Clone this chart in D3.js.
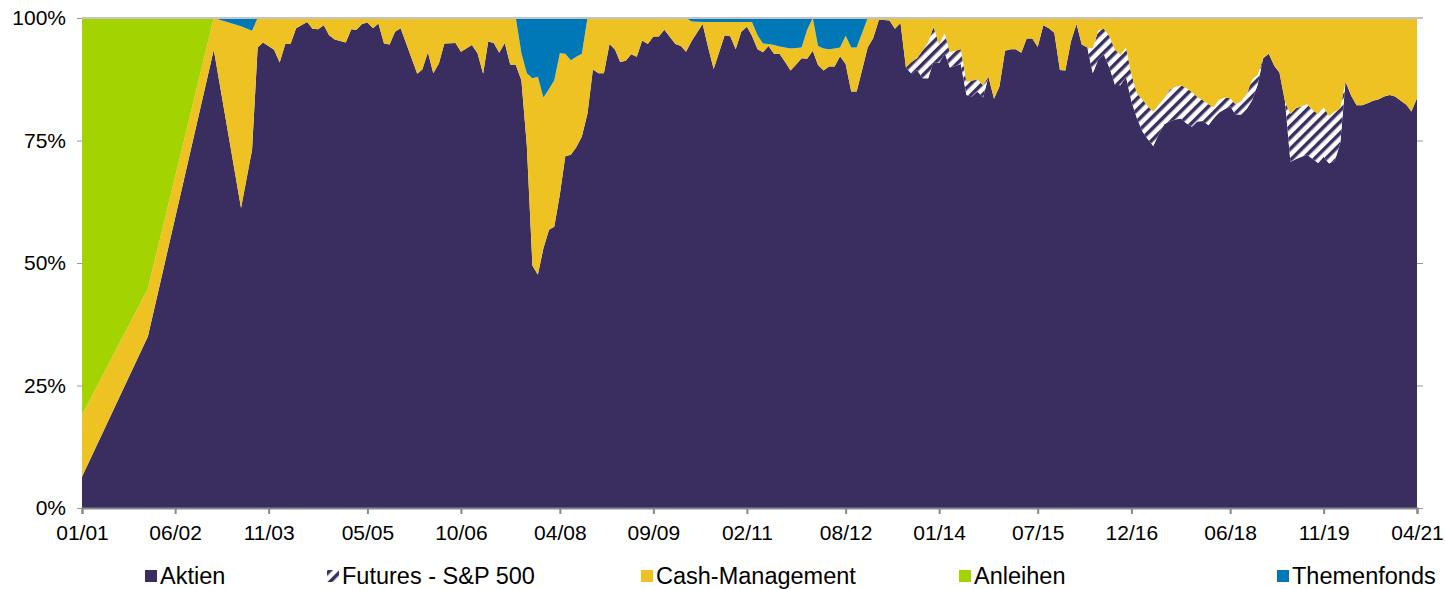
<!DOCTYPE html>
<html>
<head>
<meta charset="utf-8">
<script src="https://cdn.jsdelivr.net/npm/d3@7"></script>
<style>
  body { margin: 0; background: #fff; }
  svg { display: block; font-family: "Liberation Sans", Arial, sans-serif; }
</style>
</head>
<body>
<script>
// month of each reading (sparse in the early years)
const months = [
  "2001-01", "2002-01",
  "2003-01", "2003-06", "2003-08", "2003-09", "2003-10", "2003-12",
  "2004-01", "2004-02", "2004-03", "2004-04", "2004-06", "2004-07", "2004-08", "2004-09", "2004-10", "2004-11",
  "2005-01", "2005-02", "2005-03", "2005-04", "2005-05", "2005-06", "2005-07", "2005-08", "2005-09", "2005-10", "2005-11",
  "2006-02", "2006-03", "2006-04", "2006-05", "2006-06", "2006-07", "2006-09", "2006-10", "2006-12",
  "2007-01", "2007-02", "2007-03", "2007-04", "2007-05", "2007-06", "2007-07", "2007-08", "2007-09", "2007-10", "2007-11", "2007-12",
  "2008-01", "2008-02", "2008-03", "2008-04", "2008-05", "2008-06", "2008-07", "2008-08", "2008-09", "2008-10", "2008-11", "2008-12",
  "2009-01", "2009-02", "2009-03", "2009-04", "2009-05", "2009-06", "2009-07", "2009-08", "2009-09", "2009-10", "2009-11",
  "2010-01", "2010-02", "2010-03", "2010-04", "2010-06", "2010-07", "2010-08", "2010-10", "2010-11", "2010-12",
  "2011-01", "2011-02", "2011-03", "2011-04", "2011-05", "2011-06", "2011-07", "2011-08", "2011-09", "2011-10", "2011-11", "2011-12",
  "2012-01", "2012-02", "2012-03", "2012-04", "2012-05", "2012-06", "2012-07", "2012-08", "2012-09", "2012-10", "2012-11", "2012-12",
  "2013-01", "2013-02", "2013-03", "2013-04", "2013-05", "2013-06", "2013-07", "2013-08", "2013-09", "2013-10", "2013-11", "2013-12",
  "2014-01", "2014-02", "2014-03", "2014-04", "2014-05", "2014-06", "2014-07", "2014-08", "2014-09", "2014-10", "2014-11", "2014-12",
  "2015-01", "2015-02", "2015-03", "2015-04", "2015-05", "2015-06", "2015-07", "2015-08", "2015-09", "2015-10", "2015-11", "2015-12",
  "2016-01", "2016-02", "2016-03", "2016-04", "2016-05", "2016-06", "2016-07", "2016-08", "2016-09", "2016-10", "2016-11", "2016-12",
  "2017-01", "2017-02", "2017-03", "2017-04", "2017-05", "2017-06", "2017-07", "2017-08", "2017-09", "2017-10", "2017-11", "2017-12",
  "2018-01", "2018-02", "2018-03", "2018-04", "2018-05", "2018-06", "2018-07", "2018-08", "2018-09", "2018-10", "2018-11", "2018-12",
  "2019-01", "2019-02", "2019-03", "2019-04", "2019-05", "2019-06", "2019-07", "2019-08", "2019-09", "2019-10", "2019-11", "2019-12",
  "2020-01", "2020-02", "2020-03", "2020-04", "2020-05", "2020-06", "2020-07", "2020-08", "2020-09", "2020-10", "2020-11", "2020-12",
  "2021-01", "2021-02", "2021-03", "2021-04"
];

const aktien = [
  6.4, 35.0,
  93.5, 61.2, 73.1, 94.0, 95.0, 93.5,
  90.9, 94.7, 94.7, 97.9, 99.2, 97.8, 97.7, 98.5, 96.5, 95.6,
  95.0, 97.7, 97.6, 98.8, 99.1, 97.9, 98.9, 94.8, 94.6, 97.2, 97.9,
  88.6, 89.5, 93.0, 88.7, 90.7, 94.8, 94.9, 93.1, 94.5,
  92.8, 88.6, 95.2, 94.9, 92.9, 94.9, 90.5, 90.4, 87.3, 74.0, 49.5, 47.6,
  53.0, 56.8, 57.4, 64.0, 71.8, 72.1, 73.6, 75.8, 80.5, 89.5, 88.7, 88.7,
  94.7, 93.5, 91.0, 91.3, 92.6, 92.1, 95.4, 94.7, 96.2, 96.2, 97.6,
  94.7, 94.3, 93.1, 95.3, 98.8, 94.1, 89.6, 96.5, 96.3, 93.6,
  97.2, 98.2, 96.4, 93.6, 93.0, 94.3, 92.7, 92.7, 91.0, 89.3, 90.5, 91.8,
  91.7, 93.3, 90.4, 89.3, 90.1, 90.1, 92.2, 90.6, 85.0, 85.0, 89.5, 94.0,
  95.9, 99.6, 99.6, 99.5, 97.8, 99.0, 89.9, 88.6, 89.4, 87.7, 87.7, 91.0,
  90.8, 92.8, 89.9, 90.2, 90.6, 84.3, 84.0, 85.0, 83.8, 88.0, 83.5, 86.0,
  93.3, 93.6, 93.6, 92.9, 95.8, 95.8, 94.1, 98.5, 97.9, 97.0, 89.4, 89.3,
  95.2, 98.8, 94.6, 94.0, 88.7, 91.6, 92.6, 89.9, 86.4, 86.3, 88.0, 83.0,
  79.5, 76.8, 75.3, 73.9, 76.2, 78.3, 78.9, 79.3, 79.5, 78.5, 77.8, 78.9,
  79.0, 78.1, 79.5, 80.7, 81.4, 82.0, 80.3, 80.3, 81.5, 83.2, 86.5, 91.8,
  92.7, 90.2, 88.9, 82.9, 70.6, 71.2, 71.7, 72.1, 71.2, 70.4, 71.7, 70.3,
  70.8, 74.5, 87.0, 84.2, 82.2, 82.2, 82.6, 83.1, 83.4, 84.0, 84.3, 84.0,
  83.1, 82.3, 80.9, 83.6
];

const futures = [
  0, 0,
  0, 0, 0, 0, 0, 0,
  0, 0, 0, 0, 0, 0, 0, 0, 0, 0,
  0, 0, 0, 0, 0, 0, 0, 0, 0, 0, 0,
  0, 0, 0, 0, 0, 0, 0, 0, 0,
  0, 0, 0, 0, 0, 0, 0, 0, 0, 0, 0, 0,
  0, 0, 0, 0, 0, 0, 0, 0, 0, 0, 0, 0,
  0, 0, 0, 0, 0, 0, 0, 0, 0, 0, 0,
  0, 0, 0, 0, 0, 0, 0, 0, 0, 0,
  0, 0, 0, 0, 0, 0, 0, 0, 0, 0, 0, 0,
  0, 0, 0, 0, 0, 0, 0, 0, 0, 0, 0, 0,
  0, 0, 0, 0, 0, 0, 0, 2.4, 2.4, 5.6, 7.3, 7.2,
  3.8, 4.1, 3.1, 3.1, 3.0, 2.7, 3.2, 2.5, 2.5, 0, 0, 0,
  0, 0, 0, 0, 0, 0, 0, 0, 0, 0, 0, 0,
  0, 0, 0, 0, 5.1, 5.9, 5.2, 6.4, 7.1, 6.2, 6.0, 5.5,
  5.1, 6.5, 6.7, 7.0, 6.1, 5.3, 6.5, 6.6, 6.8, 7.2, 7.1, 5.0,
  4.2, 4.3, 2.3, 2.6, 2.4, 1.6, 2.1, 2.7, 3.0, 4.3, 1.9, 0,
  0, 0, 0, 0, 9.8, 10.4, 10.3, 10.3, 10.0, 10.0, 10.1, 9.7,
  10.1, 7.1, 0, 0, 0, 0, 0, 0, 0, 0, 0, 0,
  0, 0, 0, 0
];

const cash = [
  12.6, 9.8,
  6.5, 37.1, 24.3, 6.0, 5.0, 6.5,
  9.1, 5.3, 5.3, 2.1, 0.8, 2.2, 2.3, 1.5, 3.5, 4.4,
  5.0, 2.3, 2.4, 1.2, 0.9, 2.1, 1.1, 5.2, 5.4, 2.8, 2.1,
  11.4, 10.5, 7.0, 11.3, 9.3, 5.2, 5.1, 6.9, 5.5,
  7.2, 11.4, 4.8, 5.1, 7.1, 5.1, 9.5, 9.6, 5.5, 14.7, 38.2, 40.4,
  30.8, 28.7, 29.9, 28.8, 20.9, 19.3, 18.5, 16.9, 19.5, 10.5, 11.3, 11.3,
  5.3, 6.5, 9.0, 8.7, 7.4, 7.9, 4.6, 5.3, 3.8, 3.8, 2.4,
  5.3, 5.7, 6.9, 4.0, 0.4, 5.1, 9.6, 2.7, 2.9, 5.6,
  2.0, 1.0, 2.8, 2.9, 1.8, 0.4, 1.8, 1.5, 3.0, 4.5, 3.4, 2.2,
  5.9, 6.7, 3.9, 4.5, 3.5, 3.7, 1.8, 5.8, 9.0, 9.0, 7.5, 6.0,
  4.1, 0.4, 0.4, 0.5, 2.2, 1.0, 10.1, 9.0, 8.2, 6.7, 5.0, 1.8,
  5.4, 3.1, 7.0, 6.7, 6.4, 13.0, 12.8, 12.5, 13.7, 12.0, 16.5, 14.0,
  6.7, 6.4, 6.4, 7.1, 4.2, 4.2, 5.9, 1.5, 2.1, 3.0, 10.6, 10.7,
  4.8, 1.2, 5.4, 6.0, 6.2, 2.5, 2.2, 3.7, 6.5, 7.5, 6.0, 11.5,
  15.4, 16.7, 18.0, 19.1, 17.7, 16.4, 14.6, 14.1, 13.7, 14.3, 15.1, 16.1,
  16.8, 17.6, 18.2, 16.7, 16.2, 16.4, 17.6, 17.0, 15.5, 12.5, 11.6, 8.2,
  7.3, 9.8, 11.1, 17.1, 19.6, 18.4, 18.0, 17.6, 18.8, 19.6, 18.2, 20.0,
  19.1, 18.4, 13.0, 15.8, 17.8, 17.8, 17.4, 16.9, 16.6, 16.0, 15.7, 16.0,
  16.9, 17.7, 19.1, 16.4
];

// only the first two readings hold bonds, zero afterwards
const anleihen = [
  81.0, 55.2
];

const themenfonds = [
  0, 0,
  0, 1.7, 2.6, 0, 0, 0,
  0, 0, 0, 0, 0, 0, 0, 0, 0, 0,
  0, 0, 0, 0, 0, 0, 0, 0, 0, 0, 0,
  0, 0, 0, 0, 0, 0, 0, 0, 0,
  0, 0, 0, 0, 0, 0, 0, 0, 7.2, 11.3, 12.3, 12.0,
  16.2, 14.5, 12.7, 7.2, 7.3, 8.6, 7.9, 7.3, 0, 0, 0, 0,
  0, 0, 0, 0, 0, 0, 0, 0, 0, 0, 0,
  0, 0, 0, 0.7, 0.8, 0.8, 0.8, 0.8, 0.8, 0.8,
  0.8, 0.8, 0.8, 3.5, 5.2, 5.3, 5.5, 5.8, 6.0, 6.2, 6.1, 6.0,
  2.4, 0, 5.7, 6.2, 6.4, 6.2, 6.0, 3.6, 6.0, 6.0, 3.0, 0
];

const seriesNames = ["Aktien", "Futures - S&P 500", "Cash-Management", "Anleihen", "Themenfonds"];
const seriesColors = ["#3a2e61", "url(#stripes)", "#efc223", "#a3d300", "#0078b8"];
const tickLabels = ["01/01", "06/02", "11/03", "05/05", "10/06", "04/08", "09/09", "02/11",
                    "08/12", "01/14", "07/15", "12/16", "06/18", "11/19", "04/21"];
const yTicks = [0, 25, 50, 75, 100];

const W = 1445, H = 589;
const plotLeft = 82, plotRight = 1417, plotTop = 18, plotBottom = 508;

const parseMonth = d3.timeParse("%Y-%m");
const parseTick = d3.timeParse("%m/%y");

const rows = months.map((m, i) => {
  const r = { date: parseMonth(m) };
  r[seriesNames[0]] = aktien[i];
  r[seriesNames[1]] = futures[i] || 0;
  r[seriesNames[2]] = cash[i];
  r[seriesNames[3]] = anleihen[i] || 0;
  r[seriesNames[4]] = themenfonds[i] || 0;
  return r;
});

const x = d3.scaleTime()
  .domain([parseMonth(months[0]), parseMonth(months[months.length - 1])])
  .range([plotLeft, plotRight]);
const y = d3.scaleLinear().domain([0, 100]).range([plotBottom, plotTop]);

const svg = d3.select("body").append("svg")
  .attr("width", W)
  .attr("height", H);

// striped fill for the futures
const pat = svg.append("defs").append("pattern")
  .attr("id", "stripes")
  .attr("patternUnits", "userSpaceOnUse")
  .attr("width", 8).attr("height", 8)
  .attr("patternTransform", "rotate(45)");
pat.append("rect").attr("width", 8).attr("height", 8).attr("fill", "#ffffff");
pat.append("rect").attr("width", 3.5).attr("height", 8).attr("fill", "#3a2e61");

const stacked = d3.stack().keys(seriesNames)(rows);

const area = d3.area()
  .x(d => x(d.data.date))
  .y0(d => y(d[0]))
  .y1(d => y(d[1]));

svg.append("g").selectAll("path")
  .data(stacked)
  .join("path")
  .attr("d", area)
  .attr("fill", (d, i) => seriesColors[i]);

// y axis left
const yAxis = svg.append("g")
  .attr("transform", `translate(${plotLeft},0)`)
  .call(d3.axisLeft(y).tickValues(yTicks).tickFormat(d => d + "%").tickSize(5).tickPadding(11));
yAxis.select(".domain").remove();
yAxis.selectAll("line").attr("stroke", "#999");
yAxis.selectAll("text").attr("font-size", "21px").attr("fill", "#000").style("font-family", "Liberation Sans, Arial, sans-serif");

// right ticks
const yAxisR = svg.append("g")
  .attr("transform", `translate(${plotRight},0)`)
  .call(d3.axisRight(y).tickValues(yTicks).tickFormat("").tickSize(6));
yAxisR.select(".domain").remove();
yAxisR.selectAll("line").attr("stroke", "#999");

// top border
svg.append("line")
  .attr("x1", plotLeft).attr("x2", plotRight + 6)
  .attr("y1", plotTop).attr("y2", plotTop)
  .attr("stroke", "#c4c4c4").attr("stroke-width", 2);

// x axis
const xAxis = svg.append("g")
  .attr("transform", `translate(0,${plotBottom})`)
  .call(d3.axisBottom(x)
    .tickValues(tickLabels.map(parseTick))
    .tickFormat((d, i) => tickLabels[i])
    .tickSize(6).tickPadding(11));
xAxis.select(".domain").attr("stroke", "#888").attr("stroke-width", 2);
xAxis.selectAll("line").attr("stroke", "#888").attr("stroke-width", 2);
xAxis.selectAll("text").attr("font-size", "21px").attr("fill", "#000").style("font-family", "Liberation Sans, Arial, sans-serif");

// legend
const legendX = [145, 327, 641, 959, 1277];
const legend = svg.append("g").attr("transform", "translate(0,570)");
seriesNames.forEach((name, i) => {
  legend.append("rect")
    .attr("x", legendX[i]).attr("y", 0)
    .attr("width", 12).attr("height", 12)
    .attr("fill", seriesColors[i]);
  legend.append("text")
    .attr("x", legendX[i] + 15).attr("y", 14)
    .attr("font-size", "23.5px")
    .attr("fill", "#000")
    .text(name);
});
</script>
</body>
</html>
